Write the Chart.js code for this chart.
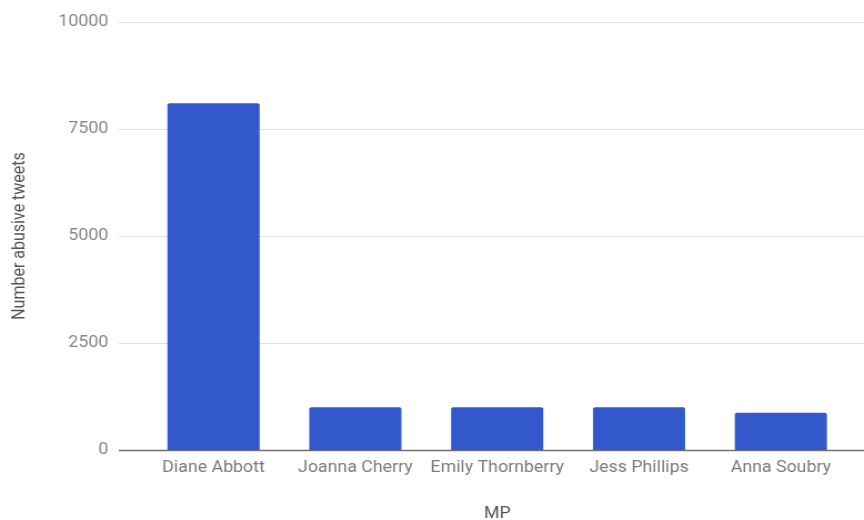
<!DOCTYPE html>
<html>
<head>
<meta charset="utf-8">
<script src="https://cdn.jsdelivr.net/npm/chart.js@4"></script>
<style>
  html, body { margin: 0; padding: 0; background: #ffffff; }
  #wrap { width: 864px; height: 520px; }
  /* canvas desenhado em 778px e esticado na horizontal */
  #chart-mps { display: block; }
</style>
</head>
<body>
<div id="wrap"><canvas id="chart-mps" width="778" height="520" style="width:864px;height:520px"></canvas></div>
<script>
// Tweets abusivos por deputada
const deputadas = ['Diane Abbott', 'Joanna Cherry', 'Emily Thornberry', 'Jess Phillips', 'Anna Soubry'];
const tweetsAbusivos = [8100, 1000, 1000, 1000, 870];
const ticksY = [0, 2500, 5000, 7500, 10000];

// Linhas de grade horizontais um pouco mais largas que a área do gráfico
const gradeLarga = {
    id: 'gradeLarga',
    beforeDatasetsDraw(chart) {
        const ctx = chart.ctx;
        const y = chart.scales.y;
        ctx.save();
        ticksY.forEach(valor => {
            const py = Math.round(y.getPixelForValue(valor)) + 0.5;
            ctx.beginPath();
            ctx.strokeStyle = valor === 0 ? '#707070' : '#e0e0e0';
            ctx.lineWidth = valor === 0 ? 1.5 : 1;
            ctx.moveTo(107, py);
            ctx.lineTo(chart.width, py);
            ctx.stroke();
        });
        ctx.restore();
    }
};

document.addEventListener('DOMContentLoaded', () => {
    const canvas = document.getElementById('chart-mps');
    new Chart(canvas, {
        type: 'bar',
        data: {
            labels: deputadas,
            datasets: [{
                label: 'Number abusive tweets',
                data: tweetsAbusivos,
                backgroundColor: '#3358cc',
                borderRadius: 2,
                borderSkipped: 'bottom',
                barPercentage: 0.65,
                categoryPercentage: 1
            }]
        },
        options: {
            responsive: false,
            animation: false,
            layout: {
                padding: { top: 22, right: 11, left: 0, bottom: 0 }
            },
            plugins: {
                legend: { display: false },
                tooltip: { enabled: false }
            },
            scales: {
                x: {
                    grid: { display: false, drawTicks: false },
                    border: { display: false },
                    ticks: {
                        padding: 8,
                        maxRotation: 0,
                        autoSkip: false,
                        color: '#7a7a7a',
                        font: { family: 'Roboto', size: 16 }
                    },
                    title: {
                        display: true,
                        text: 'MP',
                        color: '#555555',
                        padding: { top: 0, bottom: -4 },
                        font: { family: 'Roboto', size: 16 }
                    },
                    afterFit(scale) { scale.height = 70; }
                },
                y: {
                    min: 0,
                    max: 10000,
                    afterBuildTicks(scale) {
                        scale.ticks = ticksY.map(v => ({ value: v }));
                    },
                    grid: { display: false, drawTicks: false },
                    border: { display: false },
                    ticks: {
                        padding: 31,
                        color: '#858585',
                        font: { family: 'Roboto', size: 16 },
                        callback: v => String(v)
                    },
                    title: {
                        display: true,
                        text: 'Number abusive tweets',
                        color: '#555555',
                        padding: { top: 8, bottom: 0 },
                        font: { family: 'Roboto', size: 16 }
                    },
                    afterFit(scale) {
                        scale.width = 128.4;
                        // o padding dos rótulos só vale na horizontal
                        scale.paddingTop = 0;
                        scale.paddingBottom = 0;
                    }
                }
            }
        },
        plugins: [gradeLarga]
    });
});
</script>
</body>
</html>
